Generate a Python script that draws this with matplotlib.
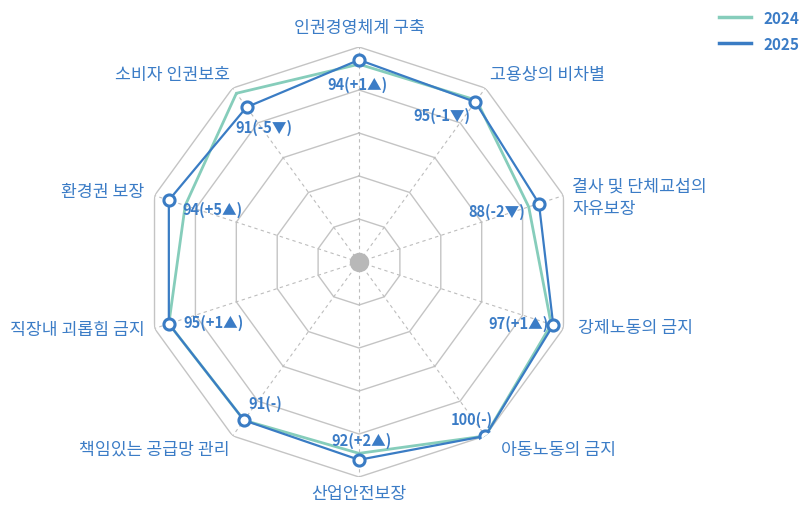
import numpy as np
import matplotlib
matplotlib.use("Agg")
import matplotlib.pyplot as plt
from matplotlib.lines import Line2D

plt.rcParams['font.family'] = ['Noto Sans CJK KR', 'DejaVu Sans']

# data
categories = ['인권경영체계 구축', '고용상의 비차별', '결사 및 단체교섭의\n자유보장', '강제노동의 금지',
              '아동노동의 금지', '산업안전보장', '책임있는 공급망 관리', '직장내 괴롭힘 금지',
              '환경권 보장', '소비자 인권보호']
scores_2024 = [92, 93, 83, 94, 100, 89, 91, 93, 85, 97]
scores_2025 = [94, 92, 88, 95, 100, 92, 91, 93, 93, 89]
value_labels = ['94(+1▲)', '95(-1▼)', '88(-2▼)', '97(+1▲)', '100(-)',
                '92(+2▲)', '91(-)', '95(+1▲)', '94(+5▲)', '91(-5▼)']
ring_levels = [20, 40, 60, 80, 100]

# layout: pixel offsets of value labels (from 2025 markers) and of category labels (from outer vertices)
label_offsets = [(-2, -24), (-33, -13), (-42, -7), (-35, 2), (-14, 17),
                 (3, 20), (21, 17), (45, 2), (44, -9), (17, -20)]
cat_offsets = [(0, 20), (5, 14), (9, -1), (15, 1), (16, -13),
               (0, -16), (-3, -13), (-10, -1), (-10, 5), (-3, 14)]

c24 = '#86cdbb'
c25 = '#3a7cc4'
txt = '#3b7cc6'
grid_c = '#c4c4c4'

n = len(categories)
theta = np.linspace(0, 2 * np.pi, n, endpoint=False)
theta_c = np.append(theta, theta[0])

fig = plt.figure(figsize=(8.01, 5.06), dpi=100)
R = 215
cx, cy = 359, 506 - 263
ax = fig.add_axes([(cx - R) / 801, (cy - R) / 506, 2 * R / 801, 2 * R / 506], projection='polar')
ax.set_theta_zero_location('N')
ax.set_theta_direction(-1)
ax.set_ylim(0, 100)
ax.set_axis_off()

# polygon rings + dashed spokes
for lv in ring_levels:
    ax.plot(theta_c, [lv] * (n + 1), color=grid_c, lw=1, zorder=1)
for t in theta:
    ax.plot([t, t], [0, 100], color='#bdbdbd', lw=0.8, ls=(0, (3, 3)), zorder=1)
ax.plot([0], [0], 'o', color='#b8b8b8', ms=13, zorder=2)

ax.plot(theta_c, scores_2024 + scores_2024[:1], color=c24, lw=2, zorder=3)
ax.plot(theta_c, scores_2025 + scores_2025[:1], color=c25, lw=1.6, zorder=4)
ax.plot(theta, scores_2025, 'o', ms=8, mfc='white', mec=c25, mew=2.2, zorder=5)

for t, v, lab, off in zip(theta, scores_2025, value_labels, label_offsets):
    ax.annotate(lab, (t, v), xytext=off, textcoords='offset pixels',
                ha='center', va='center', fontsize=10.5, color=txt, fontweight='bold', zorder=6)

for t, cat, off in zip(theta, categories, cat_offsets):
    s = np.sin(t)
    if abs(s) < 0.1:
        ha = 'center'
    elif s > 0:
        ha = 'left'
    else:
        ha = 'right'
    ax.annotate(cat, (t, ring_levels[-1]), xytext=off, textcoords='offset pixels',
                ha=ha, va='center', fontsize=12.4, color=txt,
                linespacing=1.35, fontweight='medium')

handles = [Line2D([], [], color=c24, lw=2.5), Line2D([], [], color=c25, lw=2.5)]
fig.legend(handles, ['2024', '2025'], loc='upper right', bbox_to_anchor=(1.015, 1.006),
           frameon=False, handlelength=2.1, handletextpad=0.8, labelspacing=0.65,
           prop={'size': 11, 'weight': 'bold'}, labelcolor=txt)

fig.savefig('out.png', dpi=100)
